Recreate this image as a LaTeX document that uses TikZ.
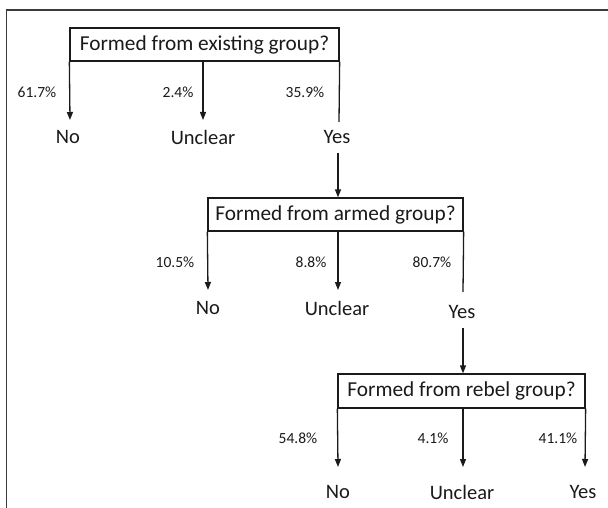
\documentclass[tikz,border=0pt]{standalone}
\usepackage{fontspec}
\setmainfont{Carlito}
\usetikzlibrary{arrows.meta}
\definecolor{ink}{HTML}{1A1A1A}
\definecolor{frame}{HTML}{3C3C3C}
\begin{document}
\begin{tikzpicture}[x=1pt,y=-1pt,
  qbox/.style={draw=ink,line width=1.3pt,minimum height=33pt,inner sep=0pt,font=\fontsize{21.3}{24}\selectfont,text=ink},
  outc/.style={font=\fontsize{20.5}{22}\selectfont,text=ink,inner sep=0pt},
  pct/.style={font=\fontsize{15.5}{17}\selectfont,text=ink,inner sep=0pt},
  conn/.style={draw=ink,line width=1.3pt},
  arr/.style={conn,-{Triangle[width=6pt,length=8pt]}}]
\useasboundingbox (0,0) rectangle (608,508);
\draw[frame,line width=1.3pt] (609,10) -- (6.5,10) -- (6.5,509);
% level 1
\node[qbox,minimum width=269pt] (q1) at (204.5,44.5) {Formed from existing group?};
\node[outc] (no1) at (68,137) {No};
\node[outc] (un1) at (203,137) {Unclear};
\node[outc] (yes1) at (337,137) {Yes};
\node[pct] (p11) at (37,92) {61.7\%};
\node[pct] (p12) at (178,92) {2.4\%};
\node[pct] (p13) at (305,92) {35.9\%};
\coordinate (e11) at (70,120);
\coordinate (e12) at (203,120);
\coordinate (e13) at (339,122);
\draw[arr] (q1.south west) -- (e11);
\draw[arr] (q1.south -| e12) -- (e12);
\draw[conn] (q1.south east) -- (e13);
% level 2
\node[qbox,minimum width=255pt] (q2) at (335.5,214.5) {Formed from armed group?};
\coordinate (s2) at (338,153);
\draw[arr] (s2) -- (s2 |- q2.north);
\node[outc] (no2) at (208,308) {No};
\node[outc] (un2) at (337,308) {Unclear};
\node[outc] (yes2) at (462,312) {Yes};
\node[pct] (p21) at (175,262) {10.5\%};
\node[pct] (p22) at (311,262) {8.8\%};
\node[pct] (p23) at (432,262) {80.7\%};
\coordinate (e21) at (208,290);
\coordinate (e22) at (338,290);
\coordinate (e23) at (463,292);
\draw[arr] (q2.south west) -- (e21);
\draw[arr] (q2.south -| e22) -- (e22);
\draw[conn] (q2.south east) -- (e23);
% level 3
\node[qbox,minimum width=247pt,minimum height=34pt] (q3) at (461.5,391) {Formed from rebel group?};
\coordinate (s3) at (463,328);
\draw[arr] (s3) -- (s3 |- q3.north);
\node[outc] (no3) at (338,492) {No};
\node[outc] (un3) at (462,492) {Unclear};
\node[outc] (yes3) at (583,492) {Yes};
\node[pct] (p31) at (298,438) {54.8\%};
\node[pct] (p32) at (433,438) {4.1\%};
\node[pct] (p33) at (558,438) {41.1\%};
\coordinate (e31) at (338,467);
\coordinate (e32) at (463,467);
\coordinate (e33) at (585,467);
\draw[arr] (q3.south west) -- (e31);
\draw[arr] (q3.south -| e32) -- (e32);
\draw[arr] (q3.south east) -- (e33);
\end{tikzpicture}
\end{document}
